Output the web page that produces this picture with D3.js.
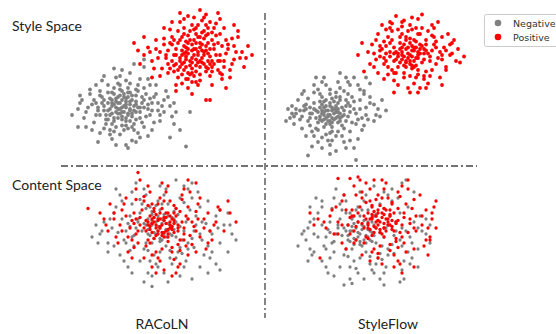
<!DOCTYPE html>
<html>
<head>
<meta charset="utf-8">
<script src="https://cdn.jsdelivr.net/npm/d3@7"></script>
<style>
  body { margin: 0; background: #fff; }
  svg { display: block; }
</style>
</head>
<body>
<div id="chart"></div>
<script>
// embedding coordinates per panel, both axes 0..100
const racolnStyleNeg = [[31,35],[27,37],[35,33],[29,31],[33,39],[25,34],[37,36],[31,29],[28,41],[34,30],[36,40],[26,31],[30,38],[33,35],[29,34],[35,37],[27,28],[32,42],[38,32],[24,38],[30,31],[34,42],[28,35],[36,29],[31,40],[26,40],[33,28],[38,39],[29,38],[32,32],[25,30],[35,34],
  [22,36],[40,35],[31,23],[30,47],[20,30],[42,40],[24,45],[37,24],[18,38],[40,28],[34,48],[26,24],[44,34],[21,42],[35,45],[28,22],[43,44],[19,33],[39,46],[32,20],[46,38],[23,27],[27,48],[41,25],[17,40],[45,30],[30,50],[36,22],[20,46],[42,48],[25,20],[47,42],[33,26],[22,40],[38,43],
  [14,35],[49,33],[30,56],[12,28],[52,40],[18,50],[40,15],[26,14],[50,26],[15,44],[44,54],[35,58],[10,38],[55,36],[22,56],[28,10],[48,50],[38,12],[13,22],[53,46],[20,18],[46,20],[42,62],[33,10],[58,32],
  [9,22],[10,43],[63,9],[65,32],[55,15],[60,20],[42,67],[6,30],[57,24],
  [30,34],[33,37],[28,32],[35,39],[26,36],[37,33],[31,27],[29,42],[34,31],[38,37],[24,33],[32,44],[40,32],[27,26],[36,43],[22,33],[31,46],[41,38],[25,41],[38,27],[19,35],[34,21],[44,37],[23,24],[29,51],[46,33],[16,37],[39,50],[27,19],[48,44],[20,43],[42,22],[33,53],[13,32],[51,36],[24,50],[36,13],[17,25],[50,30],[30,17],[11,40],[45,50],[39,18],[28,55],[54,42],[16,20],[47,25],[21,53],[34,8],[57,38],
  [32,36],[29,28],[36,31],[26,38],[34,45],[23,30],[41,42],[30,43],[37,20],[21,38],[43,29],[26,45],[38,47],[33,23],[18,30],[45,41],[25,17],[40,54],[15,47],[52,32],[35,51],[22,21],[49,38],[31,60],[19,12],[44,16],[9,34],[56,29],[27,61],[37,64],[31,32],[28,39],[35,26],[33,41],[24,27],[39,35],[27,44],[42,35]];
const racolnStylePos = [[67,70],[63,72],[71,68],[65,66],[70,75],[61,70],[74,71],[68,63],[66,77],[62,65],[72,64],[73,76],[64,74],[69,72],[66,68],[70,66],[62,76],[74,66],[68,78],[60,68],[71,73],[65,63],[73,62],[63,69],[67,74],[69,65],[64,78],[72,70],[61,64],[75,74],[66,61],[70,78],[63,75],[68,67],[74,78],
  [58,74],[76,80],[69,82],[64,58],[77,64],[57,80],[80,70],[56,66],[70,57],[74,84],[59,60],[79,60],[62,84],[72,86],[54,73],[81,76],[67,56],[56,82],[82,66],[61,57],[78,83],[53,68],[75,56],[65,86],[84,74],[68,88],[55,61],[80,58],[59,86],[73,90],[57,70],[83,80],[63,54],[77,88],[52,77],[79,66],[66,52],[60,80],[76,59],[71,85],
  [50,72],[86,64],[64,48],[48,80],[88,72],[58,50],[82,88],[67,95],[76,50],[52,88],[90,68],[46,66],[62,94],[85,55],[73,97],[44,75],[89,82],[56,92],[80,94],[92,62],[50,56],[87,90],[42,70],[70,100],[94,76],[60,98],[83,48],[96,70],[39,73],[66,44],
  [37,78],[42,82],[73,40],[75,40],[46,55],[40,64],
  [64,71],[69,70],[66,65],[72,72],[60,66],[75,69],[67,80],[63,62],[71,77],[58,70],[77,74],[65,57],[68,84],[61,73],[73,59],[56,77],[79,78],[70,53],[62,88],[76,62],[54,64],[80,84],[66,90],[59,55],[83,71],[71,93],[52,81],[87,67],[64,96],[57,63],[78,91],[48,74],[85,60],[69,50],[60,92],[91,72],[55,87],[81,54],[74,88],[51,61],
  [65,80],[72,81],[68,59],[76,66],[63,67],[59,78],[70,62],[78,70],[61,82],[73,83],[57,59],[82,62],[67,87],[53,70],[84,77],[64,54],[75,92],[49,68],[86,81],[61,51],[80,66],[66,73],[71,65],[64,83],[74,61],[58,64],[77,77],[69,90],[55,78],[81,57],[62,60],[87,76],[45,72],[93,68],[68,52],[72,95],[47,61],[89,86],[58,46],[79,98],[63,79],[70,82],[75,64],[60,62],[66,58],[73,73],[62,71],[68,74],[76,85],[54,58]];
const styleflowStyleNeg = [[30,30],[27,32],[33,28],[29,26],[32,34],[25,29],[35,31],[30,24],[28,36],[34,25],[36,35],[26,26],[31,33],[29,30],[33,32],[27,35],[32,27],[24,32],[35,28],[30,36],[28,28],[34,34],[26,33],[31,25],[33,36],[25,27],[37,30],[29,33],
  [21,31],[39,29],[30,18],[31,41],[19,26],[40,36],[22,38],[37,21],[17,33],[41,25],[35,42],[24,20],[43,31],[20,23],[34,19],[26,42],[42,39],[18,37],[39,44],[28,17],[44,27],[22,45],[36,16],[16,29],[45,34],[30,44],[23,21],[40,19],[27,39],[38,40],[20,35],[33,45],
  [13,31],[48,30],[30,10],[34,52],[12,24],[50,38],[16,44],[44,14],[24,12],[47,44],[11,36],[40,50],[26,52],[52,26],[18,16],[38,8],[14,40],[46,20],[22,50],[54,34],[30,4],[42,55],[10,28],[19,3],[43,0],[58,33],[35,58],[23,55],[50,51],[48,55],[45,47],[8,26],[56,40],
  [29,29],[32,31],[27,27],[31,35],[26,31],[34,29],[30,26],[28,33],[33,34],[35,26],[25,35],[31,22],[37,33],[23,28],[32,39],[27,22],[38,36],[22,34],[34,38],[28,40],[36,23],[20,28],[40,32],[25,39],[33,16],[18,34],[42,34],[30,47],[21,19],[41,42],[15,27],[35,48],[26,15],[46,28],[19,41],[37,12],[13,34],[48,35],[24,47],[40,13],[27,55],[50,42],[16,21],[44,50],[31,13],[53,30],[11,31],[38,55],[21,9],[47,23],
  [31,28],[27,30],[34,32],[24,25],[36,29],[28,24],[30,38],[23,33],[38,26],[26,37],[33,42],[20,31],[39,38],[31,19],[17,36],[43,24],[25,44],[35,40],[29,13],[15,33],[45,40],[22,16],[37,46],[12,29],[49,27],[28,50],[42,8],[17,46],[52,37],[33,6],[9,34],[47,46],[26,8],[39,52],[55,29]];
const styleflowStylePos = [[70,70],[66,72],[74,68],[68,66],[72,75],[64,69],[77,71],[70,64],[67,77],[73,63],[76,76],[65,65],[71,73],[69,68],[74,72],[66,75],[72,66],[63,72],[77,67],[70,78],[68,62],[75,74],[65,78],[71,61],[73,79],[62,66],[78,73],[69,75],
  [60,72],[80,69],[70,56],[71,87],[58,66],[82,77],[61,80],[78,59],[56,74],[83,64],[75,84],[63,58],[85,72],[59,62],[74,57],[66,84],[82,82],[57,79],[79,86],[67,55],[86,67],[61,86],[77,54],[55,69],[87,75],[70,90],[62,58],[81,60],[68,82],[78,80],[58,76],[73,88],
  [52,71],[90,70],[69,48],[74,94],[50,64],[91,78],[54,84],[85,55],[64,50],[89,84],[51,77],[81,90],[66,92],[93,66],[57,54],[78,48],[53,80],[88,60],[60,92],[94,74],[63,96],[62,45],[75,48],[44,70],[47,59],[46,78],[95,65],[84,92],[86,50],[56,90],[49,72],
  [69,71],[72,73],[67,69],[71,76],[66,67],[74,70],[70,66],[68,74],[73,68],[75,77],[64,71],[71,63],[77,74],[63,67],[72,80],[67,63],[79,71],[62,75],[74,60],[68,80],[76,65],[60,69],[81,73],[65,82],[73,55],[58,71],[83,79],[69,86],[61,60],[84,68],[76,88],[57,64],[80,56],[64,87],[88,73],[59,82],[72,51],[86,82],[55,76],[79,51],[67,93],[91,71],[62,53],[82,88],[53,67],[76,97],[60,88],[92,80],[70,45],[54,58],
  [71,69],[66,70],[73,75],[68,65],[75,71],[65,74],[72,62],[78,77],[62,71],[70,81],[64,62],[80,66],[60,78],[74,84],[67,58],[83,75],[57,68],[77,56],[66,89],[86,70],[59,57],[81,83],[55,73],[71,95],[88,62],[61,91],[90,77],[52,62],[74,45],[97,69],[58,87]];
const racolnContentNeg = [[50,60],[46,62],[54,58],[48,56],[52,65],[44,59],[56,61],[50,53],[47,67],[53,54],[57,66],[45,55],[51,63],[49,58],[55,62],[46,65],[52,56],[43,62],[56,55],[49,68],[47,53],[58,64],[44,66],[51,52],[54,68],
  [38,60],[62,58],[50,44],[51,76],[36,54],[64,66],[40,70],[60,47],[34,63],[66,53],[58,73],[42,46],[68,62],[37,48],[55,45],[45,74],[65,72],[35,68],[62,77],[47,42],[70,56],[41,76],[61,43],[33,58],[71,64],[49,78],[43,50],[64,50],[46,71],[59,69],[39,64],[54,76],[67,47],[32,52],
  [26,60],[75,58],[49,34],[53,86],[24,50],[78,68],[28,74],[72,42],[40,38],[74,78],[22,64],[64,86],[42,86],[80,50],[30,42],[62,34],[27,70],[76,44],[36,84],[82,62],[52,30],[38,90],[20,56],[84,70],[60,28],[66,90],[18,62],[44,30],[86,56],[32,38],[70,34],[30,82],[78,36],[24,44],[58,92],
  [42,24],[46,21],[80,32],[74,30],[54,24],[36,30],[66,26],[88,52],[16,54],[84,44],
  [49,61],[53,59],[47,57],[51,66],[45,62],[55,56],[50,51],[48,64],[54,63],[57,59],[44,56],[52,69],[58,54],[42,63],[50,72],[56,67],[46,50],[60,61],[41,58],[53,48],[46,69],[61,52],[39,66],[57,71],[44,45],[63,64],[37,55],[48,75],[59,44],[35,61],[67,58],[43,73],[55,40],[68,68],[33,50],
  [52,82],[64,46],[40,79],[71,52],[31,66],[60,80],[45,38],[73,63],[29,57],[56,36],[36,76],[70,74],[48,36],[76,56],[27,48],[66,80],[35,45],[79,60],[43,82],[63,38],[25,66],[74,48],[50,88],[31,78],[80,72],[58,40],[21,58],[69,84],[46,28],[85,62],[34,34],[75,40],[28,86],[62,88],[19,50]];
const racolnContentPos = [[51,62],[47,64],[55,60],[49,58],[53,67],[45,61],[57,63],[51,55],[48,69],[54,56],[58,68],[46,57],[52,65],[50,60],[55,64],[47,67],[53,58],[44,64],[57,57],[50,70],[48,55],[56,66],[45,68],[52,54],[54,70],[43,58],[59,62],[49,66],[56,59],[46,63],
  [40,62],[62,60],[51,46],[52,78],[38,56],[63,68],[41,72],[59,49],[36,65],[65,55],[57,75],[43,48],[66,64],[39,50],[56,47],[46,76],[64,74],[37,70],[61,79],[48,44],[68,58],[42,78],[60,45],[35,60],[69,66],[50,80],[44,52],[62,52],[47,73],[60,71],[38,66],[55,78],[66,49],[34,54],
  [30,62],[72,60],[50,38],[54,88],[28,54],[74,70],[32,76],[68,44],[42,40],[70,80],[27,66],[62,86],[44,88],[76,52],[34,44],[60,36],[31,72],[73,46],[38,86],[78,64],[52,32],[40,92],[24,58],[80,72],[58,30],[64,92],[22,66],[46,34],[82,58],[36,40],
  [39,97],[14,73],[88,64],[25,76],[20,70],[84,78],[68,90],[48,30],[56,28],[85,70],
  [50,61],[53,63],[48,60],[52,67],[46,63],[56,61],[51,57],[49,65],[54,59],[57,65],[45,59],[53,70],[59,58],[43,65],[51,73],[57,70],[47,53],[61,64],[42,60],[54,51],[47,71],[62,56],[40,67],[58,73],[45,50],[64,66],[39,58],[49,76],[60,52],[37,63],[67,61],[44,75],[56,44],[68,71],[36,52],
  [53,84],[63,48],[42,81],[70,54],[33,68],[61,82],[46,42],[72,66],[31,58],[57,39],[38,79],[69,76],[49,40],[75,58],[29,50],[65,84],[37,47],[77,62],[45,84],[64,42],[27,70],[74,50],[51,90],[33,80],[79,74],[59,34],[23,62],[55,62],[50,66],[52,57],[48,62],[55,68],[46,66],[59,60],[44,62],[54,54],[49,56]];
const styleflowContentNeg = [[45,56],[41,58],[49,54],[43,52],[47,61],[39,55],[51,57],[45,49],[42,63],[48,50],[52,62],[40,51],[46,59],[44,54],[50,58],[41,61],[47,52],[38,58],[51,51],[44,64],[42,49],[53,60],[39,62],[46,48],[49,64],
  [33,56],[57,54],[45,40],[46,72],[31,50],[59,62],[35,66],[55,43],[29,59],[61,49],[53,69],[37,42],[63,58],[32,44],[50,41],[40,70],[60,68],[30,64],[57,73],[42,38],[65,52],[36,72],[56,39],[28,54],[66,60],[44,74],[38,46],[59,46],[41,67],[54,65],[34,60],[49,72],[62,43],[27,48],
  [22,56],[70,54],[44,30],[48,82],[20,46],[72,64],[24,70],[67,38],[35,34],[69,74],[19,60],[59,82],[37,82],[74,46],[26,38],[57,30],[22,66],[71,40],[32,80],[76,58],[47,26],[33,86],[18,52],[78,66],[55,26],[61,86],[17,58],[40,26],[80,50],[28,34],[66,32],[26,78],[74,34],[21,42],[52,88],
  [19,38],[32,28],[37,22],[57,22],[52,30],[67,26],[66,90],[72,84],[20,74],[65,24],[80,62],[68,92],
  [44,57],[48,55],[42,53],[46,62],[40,58],[50,52],[45,51],[43,60],[49,59],[52,55],[39,52],[47,65],[53,50],[37,60],[45,68],[51,64],[41,46],[55,57],[36,55],[48,44],[41,66],[56,48],[34,62],[52,68],[39,41],[58,60],[32,51],[43,72],[54,40],[30,57],[62,55],[38,70],[50,36],[63,64],[28,46],
  [47,78],[59,42],[35,76],[66,48],[26,62],[55,76],[40,34],[68,58],[24,54],[51,32],[31,73],[65,70],[43,33],[71,50],[22,44],[61,78],[30,40],[74,60],[38,78],[58,34],[20,64],[69,44],[45,84],[26,74],[75,68],[53,36],[16,56],[64,80],[41,23],[78,56],[29,30],[70,36],[23,80],[57,84],[14,48]];
const styleflowContentPos = [[55,64],[51,66],[59,62],[53,60],[57,69],[49,63],[61,65],[55,57],[52,71],[58,58],[62,70],[50,59],[56,67],[54,62],[59,66],[51,69],[57,60],[48,66],[61,59],[54,72],[52,57],[60,68],[49,70],[56,56],[58,72],[47,60],[63,64],[53,68],
  [44,64],[66,62],[55,48],[56,80],[42,58],[67,70],[45,74],[63,51],[40,67],[69,57],[61,77],[47,50],[70,66],[43,52],[60,49],[50,78],[68,76],[41,72],[65,81],[52,46],[72,60],[46,80],[64,47],[39,62],[73,68],[54,82],[48,54],[66,54],[51,75],[64,73],[42,68],[59,80],
  [34,64],[76,62],[54,40],[58,90],[32,56],[78,72],[36,78],[72,46],[46,42],[75,82],[30,68],[66,88],[48,90],[80,54],[38,46],[64,38],[33,74],[77,48],[42,88],[81,66],[56,36],[44,94],[28,60],[82,74],[62,34],[69,92],[24,66],[50,38],[79,42],[36,50],
  [20,70],[22,62],[83,60],[80,52],[25,40],[72,34],[66,30],[45,92],[52,92],[34,93],[40,93],
  [54,65],[57,63],[52,61],[56,70],[50,66],[60,62],[55,59],[53,68],[58,66],[61,61],[49,62],[57,73],[62,58],[47,68],[55,75],[60,72],[51,55],[64,65],[46,63],[57,54],[51,74],[65,57],[44,70],[61,76],[49,53],[67,67],[43,61],[53,79],[63,53],[41,68],[70,63],[48,77],[60,45],[71,73],[40,56],
  [57,86],[67,50],[46,84],[73,58],[38,72],[64,84],[51,44],[76,68],[36,62],[62,42],[43,82],[72,79],[54,43],[79,60],[34,56],[69,86],[42,50],[81,70],[50,86],[68,44],[31,72],[78,52],[56,92],[37,82],[83,78],[65,36],[27,64],[59,64],[54,70],[57,60],[53,64],[60,69],[51,67],[63,63],[49,60]];

const methods = ['RACoLN', 'StyleFlow'];
const spaces = ['Style Space', 'Content Space'];
const classes = ['Negative', 'Positive'];
const colors = { Negative: '#808080', Positive: '#ff0000' };

const panels = [
  { col: 0, row: 0, neg: racolnStyleNeg, pos: racolnStylePos },
  { col: 1, row: 0, neg: styleflowStyleNeg, pos: styleflowStylePos },
  { col: 0, row: 1, neg: racolnContentNeg, pos: racolnContentPos },
  { col: 1, row: 1, neg: styleflowContentNeg, pos: styleflowContentPos }
];

const width = 556, height = 334;
const colX = [60, 270], rowBottom = [160, 318];
const pw = 200, ph = 150;

const svg = d3.select('#chart').append('svg')
  .attr('width', width).attr('height', height);

panels.forEach(p => {
  const x = d3.scaleLinear().domain([0, 100]).range([colX[p.col], colX[p.col] + pw]);
  const y = d3.scaleLinear().domain([0, 100]).range([rowBottom[p.row], rowBottom[p.row] - ph]);
  const r = p.row === 0 ? 1.9 : 1.65;
  const g = svg.append('g');
  [['Negative', p.neg], ['Positive', p.pos]].forEach(([cls, pts]) => {
    g.selectAll(null).data(pts).enter().append('circle')
      .attr('cx', d => x(d[0])).attr('cy', d => y(d[1]))
      .attr('r', r).attr('fill', colors[cls]);
  });
});

// dash-dot separators
const sep = svg.append('g').attr('stroke', '#444').attr('stroke-width', 1.3)
  .attr('stroke-dasharray', '7,3,2,3').attr('fill', 'none');
sep.append('line').attr('x1', 265).attr('x2', 265).attr('y1', 13).attr('y2', 318);
sep.append('line').attr('x1', 61).attr('x2', 477).attr('y1', 166).attr('y2', 166);

const font = 'Lato, "Open Sans", sans-serif';
svg.selectAll('.space').data(spaces).enter().append('text')
  .attr('x', 12).attr('y', (d, i) => i === 0 ? 31 : 190)
  .attr('font-family', font).attr('font-size', 14).attr('fill', '#222')
  .text(d => d);
svg.selectAll('.method').data(methods).enter().append('text')
  .attr('x', (d, i) => i === 0 ? 162 : 388).attr('y', 329)
  .attr('text-anchor', 'middle')
  .attr('font-family', font).attr('font-size', 14).attr('fill', '#222')
  .text(d => d);

// legend
const lg = svg.append('g');
lg.append('rect').attr('x', 484.5).attr('y', 14.5).attr('width', 80).attr('height', 32)
  .attr('rx', 2).attr('fill', '#fff').attr('stroke', '#ccc');
classes.forEach((c, i) => {
  lg.append('circle').attr('cx', 498).attr('cy', 23 + i * 14).attr('r', 3.3).attr('fill', colors[c]);
  lg.append('text').attr('x', 513).attr('y', 26.5 + i * 14)
    .attr('font-family', '"DejaVu Sans", sans-serif').attr('font-size', 9.5).attr('fill', '#333')
    .text(c);
});
</script>
</body>
</html>
